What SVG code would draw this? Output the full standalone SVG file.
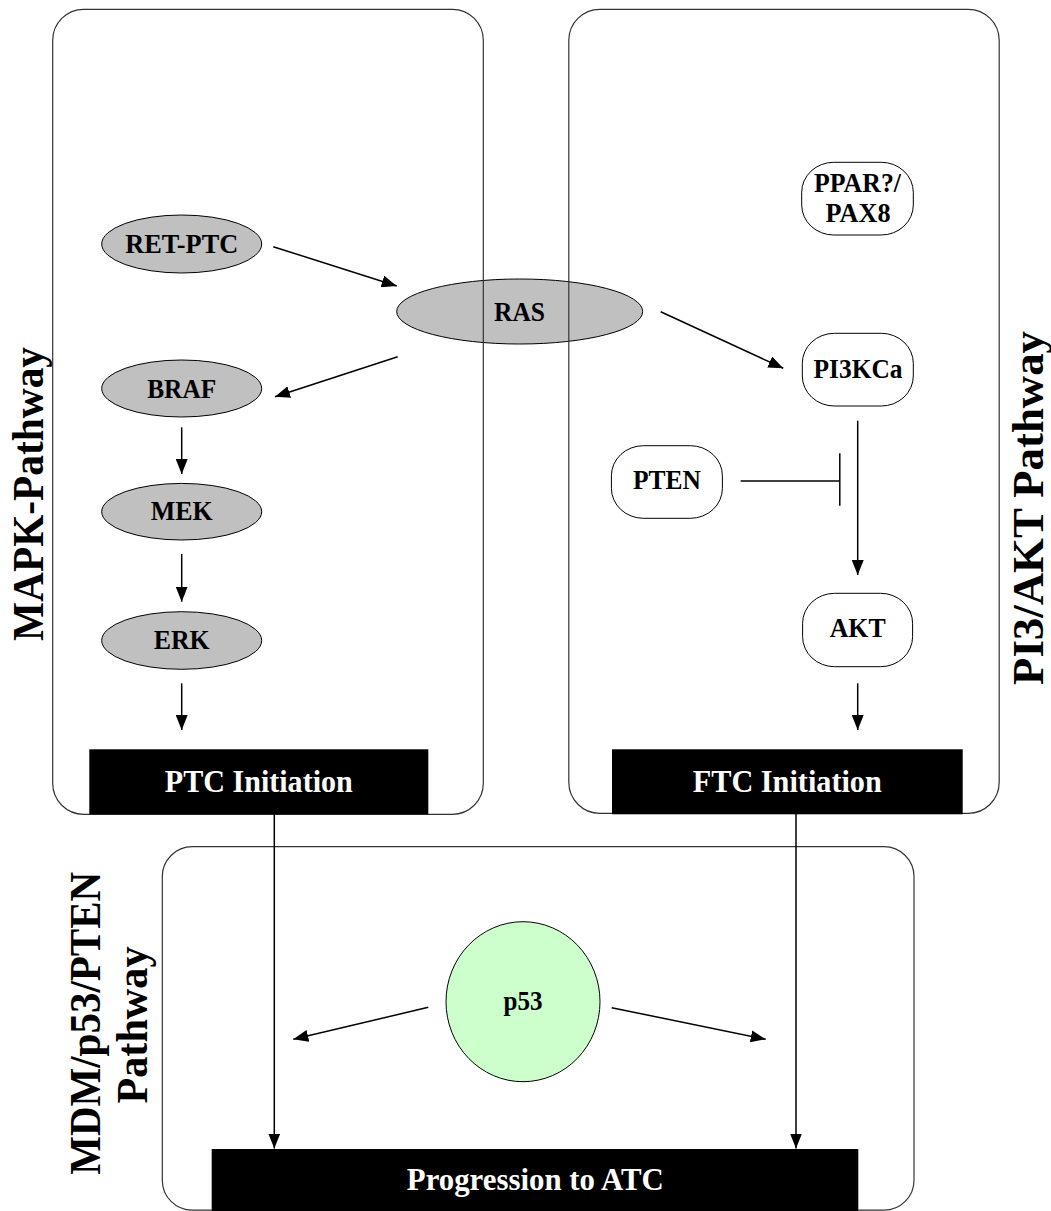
<svg xmlns="http://www.w3.org/2000/svg" width="1051" height="1211" viewBox="0 0 1051 1211">
<defs>
<marker id="arr" markerUnits="userSpaceOnUse" markerWidth="15" markerHeight="12" viewBox="0 0 15 12" refX="15" refY="6" orient="auto">
<path d="M0,0 L15,6 L0,12 z" fill="#000"/>
</marker>
<style>
.panel{fill:none;stroke:#333;stroke-width:1.2}
.ell{fill:#c0c0c0;stroke:#000;stroke-width:1}
.rr{fill:#fff;stroke:#000;stroke-width:1}
.box{fill:#000}
.lbl{font-family:"Liberation Serif","Times New Roman",serif;font-weight:bold;font-size:28px;text-anchor:middle;fill:#000}
.blbl{font-family:"Liberation Serif","Times New Roman",serif;font-weight:bold;font-size:32px;text-anchor:middle;fill:#fff}
.side{font-family:"Liberation Serif","Times New Roman",serif;font-weight:bold;font-size:45px;text-anchor:middle;fill:#000}
.edge{fill:none;stroke:#000;stroke-width:1.5}
.arrow{marker-end:url(#arr)}
</style>
</defs>
<rect width="1051" height="1211" fill="#fff"/>

<g id="node-ret-ptc"><ellipse class="ell" cx="181.7" cy="244" rx="80" ry="29"/><text class="lbl" x="181.7" y="253.3" textLength="113" lengthAdjust="spacingAndGlyphs">RET-PTC</text></g>
<g id="node-ras"><ellipse class="ell" cx="519.7" cy="311.5" rx="123" ry="32.5"/><text class="lbl" x="519.5" y="320.5" textLength="51" lengthAdjust="spacingAndGlyphs">RAS</text></g>
<g id="node-braf"><ellipse class="ell" cx="181.7" cy="388.5" rx="80" ry="28.5"/><text class="lbl" x="181.7" y="398" textLength="69" lengthAdjust="spacingAndGlyphs">BRAF</text></g>
<g id="node-mek"><ellipse class="ell" cx="181.7" cy="511.7" rx="80" ry="28.3"/><text class="lbl" x="181.7" y="519.5" textLength="62" lengthAdjust="spacingAndGlyphs">MEK</text></g>
<g id="node-erk"><ellipse class="ell" cx="181.7" cy="640.5" rx="80" ry="28.8"/><text class="lbl" x="181.7" y="648.5" textLength="56" lengthAdjust="spacingAndGlyphs">ERK</text></g>

<g id="node-ppar"><rect class="rr" x="801.7" y="162.3" width="111.6" height="72.7" rx="32" ry="30"/><text class="lbl" x="857.5" y="191.7" textLength="87" lengthAdjust="spacingAndGlyphs">PPAR?/</text><text class="lbl" x="858" y="222.3" textLength="65" lengthAdjust="spacingAndGlyphs">PAX8</text></g>
<g id="node-pi3kca"><rect class="rr" x="802.3" y="333.3" width="111" height="72.7" rx="32" ry="30"/><text class="lbl" x="858" y="378.3" textLength="89" lengthAdjust="spacingAndGlyphs">PI3KCa</text></g>
<g id="node-pten"><rect class="rr" x="611.4" y="445.7" width="111" height="72.6" rx="32" ry="30"/><text class="lbl" x="667" y="489.3" textLength="68" lengthAdjust="spacingAndGlyphs">PTEN</text></g>
<g id="node-akt"><rect class="rr" x="802.6" y="593.3" width="110" height="73.4" rx="32" ry="30"/><text class="lbl" x="857.7" y="637.3" textLength="56" lengthAdjust="spacingAndGlyphs">AKT</text></g>

<g id="node-p53"><ellipse cx="523" cy="1001.7" rx="77" ry="80" fill="#ccffcc" stroke="#000" stroke-width="1"/><text class="lbl" x="523" y="1010" textLength="39" lengthAdjust="spacingAndGlyphs">p53</text></g>

<g id="panel-mapk"><rect class="panel" x="52.7" y="9.3" width="430.6" height="805" rx="31" ry="31"/></g>
<g id="panel-pi3"><rect class="panel" x="568.8" y="9.3" width="430.4" height="804" rx="31" ry="31"/></g>
<g id="panel-mdm"><rect class="panel" x="162.3" y="846.7" width="751.7" height="363.5" rx="30" ry="30"/></g>

<g id="connectors">
<line class="edge arrow" x1="273.3" y1="246.7" x2="396.7" y2="286"/>
<line class="edge arrow" x1="397.7" y1="356.7" x2="275" y2="396.7"/>
<line class="edge arrow" x1="660.7" y1="311.7" x2="783.3" y2="368.3"/>
<line class="edge arrow" x1="181.7" y1="427.3" x2="181.7" y2="474"/>
<line class="edge arrow" x1="181.7" y1="554" x2="181.7" y2="601.7"/>
<line class="edge arrow" x1="181.7" y1="683.3" x2="181.7" y2="730"/>
<line class="edge arrow" x1="857.7" y1="420.7" x2="857.7" y2="575"/>
<line class="edge arrow" x1="857.7" y1="683.3" x2="857.7" y2="730"/>
<line class="edge" x1="740.6" y1="481" x2="839.8" y2="481"/>
<line class="edge" x1="839.8" y1="453.3" x2="839.8" y2="505.7"/>
<line class="edge arrow" x1="274.3" y1="814" x2="274.3" y2="1148.5"/>
<line class="edge arrow" x1="796" y1="814" x2="796" y2="1148.5"/>
<line class="edge arrow" x1="428.3" y1="1007.3" x2="293.3" y2="1039.3"/>
<line class="edge arrow" x1="611.7" y1="1007.7" x2="765.7" y2="1039.3"/>
</g>

<g id="node-ptc-init"><rect class="box" x="89.3" y="749.3" width="339" height="65"/><text class="blbl" x="258.8" y="791.7" textLength="188" lengthAdjust="spacingAndGlyphs">PTC Initiation</text></g>
<g id="node-ftc-init"><rect class="box" x="612" y="749.3" width="350.7" height="65"/><text class="blbl" x="787.3" y="791.7" textLength="189" lengthAdjust="spacingAndGlyphs">FTC Initiation</text></g>
<g id="node-progression"><rect class="box" x="211.7" y="1149" width="646.6" height="62"/><text class="blbl" x="535.3" y="1190" textLength="257" lengthAdjust="spacingAndGlyphs">Progression to ATC</text></g>

<g id="labels">
<text class="side" transform="translate(42.7,494) rotate(-90)" textLength="294" lengthAdjust="spacingAndGlyphs">MAPK-Pathway</text>
<text class="side" transform="translate(1043,508) rotate(-90)" textLength="354" lengthAdjust="spacingAndGlyphs">PI3/AKT Pathway</text>
<text class="side" transform="translate(100,1023.3) rotate(-90)" textLength="303" lengthAdjust="spacingAndGlyphs">MDM/p53/PTEN</text>
<text class="side" transform="translate(146.7,1025) rotate(-90)" textLength="157" lengthAdjust="spacingAndGlyphs">Pathway</text>
</g>
</svg>
